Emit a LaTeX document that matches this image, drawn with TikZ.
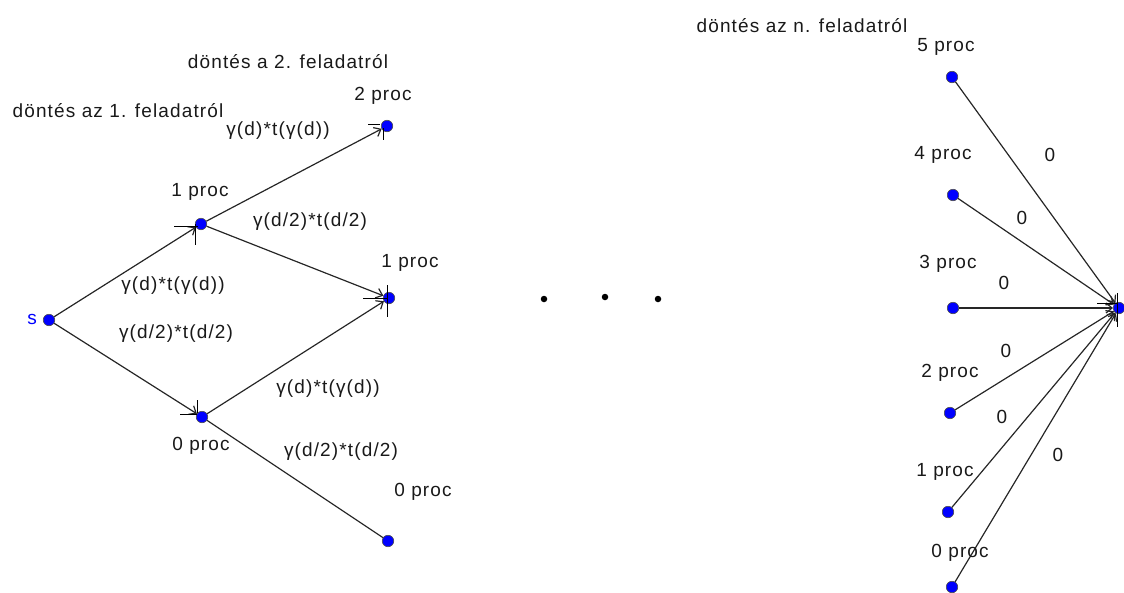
\documentclass[tikz,border=0pt]{standalone}
\usepackage{fontspec}
\setmainfont{Liberation Sans}[LetterSpace=6]
\usetikzlibrary{arrows.meta}
\definecolor{ggblue}{RGB}{0,0,255}
\tikzset{
  pt/.style={circle,fill=ggblue,draw=black!70,line width=0.6pt,inner sep=0pt,minimum size=11.5pt},
  lbl/.style={font=\fontsize{19}{21}\selectfont,text=black!90,inner sep=0pt},
  edge/.style={draw=black!85,line width=1.2pt},
  arr/.style={edge,-{Straight Barb[length=6pt,width=10pt]}},
  tick/.style={draw=black,line width=1pt},
  dot/.style={circle,fill=black,inner sep=0pt,minimum size=6.5pt}
}
\begin{document}
\begin{tikzpicture}[x=1pt,y=-1pt]
\useasboundingbox (0,0) rectangle (1124,592);
% nodes left
\node[pt] (s) at (49,320) {};
\node[pt] (a1) at (201,224) {};
\node[pt] (a0) at (202,417) {};
\node[pt] (b2) at (387,126) {};
\node[pt] (b1) at (389,298) {};
\node[pt] (b0) at (388,541) {};
% dots
\node[dot] (d1) at (544,299) {};
\node[dot] (d2) at (605,297) {};
\node[dot] (d3) at (658,299) {};
% nodes right
\node[pt] (n5) at (952,77) {};
\node[pt] (n4) at (953,195) {};
\node[pt] (n3) at (953,308) {};
\node[pt] (n2) at (950,413) {};
\node[pt] (n1) at (948,512) {};
\node[pt] (n0) at (952,587) {};
\node[pt] (t) at (1119,308) {};
% edges
\draw[arr] (s) -- (a1);
\draw[arr] (s) -- (a0);
\draw[arr] (a1) -- (b2);
\draw[arr] (a1) -- (b1);
\draw[arr] (a0) -- (b1);
\draw[edge] (a0) -- (b0);
\draw[arr] (n5) -- (t);
\draw[arr] (n4) -- (t);
\draw[arr] (n3) -- (t);
\draw[arr] (n2) -- (t);
\draw[arr] (n1) -- (t);
\draw[arr] (n0) -- (t);
% tick marks at arrow ends
\draw[tick] (a1.center) ++(-27,2) -- ++(24,0);
\draw[tick] (a1.center) ++(-6,0) -- ++(0,21);
\draw[tick] (b1.center) ++(-26,0) -- ++(24,0);
\draw[tick] (b1.center) ++(-2,-13) -- ++(0,32);
\draw[tick] (a0.center) ++(-22,-3) -- ++(17,0);
\draw[tick] (a0.center) ++(-5,-17) -- ++(0,13);
\draw[tick] (b2.center) ++(-19,-2) -- ++(12,0);
\draw[tick] (b2.center) ++(-4,2) -- ++(0,12);
\draw[tick] (t.center) ++(-22,-5) -- ++(20,0);
\draw[tick] (t.center) ++(-2,-15) -- ++(0,34);
% labels
\node[lbl,text=ggblue] (ls) at (32,319) {s};
\node[lbl] (h1) at (118,111) {döntés az 1. feladatról};
\node[lbl] (h2) at (288,62) {döntés a 2. feladatról};
\node[lbl] (hn) at (802,26) {döntés az n. feladatról};
\node[lbl] (la1) at (200,192) {1 proc};
\node[lbl] (lb2) at (383,96) {2 proc};
\node[lbl] (lb1) at (410,263) {1 proc};
\node[lbl] (la0) at (201,446) {0 proc};
\node[lbl] (lb0) at (423,492) {0 proc};
\node[lbl] (e1) at (278,131) {γ(d)*t(γ(d))};
\node[lbl] (e2) at (310,222) {γ(d/2)*t(d/2)};
\node[lbl] (e3) at (173,286) {γ(d)*t(γ(d))};
\node[lbl] (e4) at (176,334) {γ(d/2)*t(d/2)};
\node[lbl] (e5) at (328,389) {γ(d)*t(γ(d))};
\node[lbl] (e6) at (341,452) {γ(d/2)*t(d/2)};
\node[lbl] (l5) at (946,47) {5 proc};
\node[lbl] (l4) at (943,155) {4 proc};
\node[lbl] (l3) at (948,264) {3 proc};
\node[lbl] (l2) at (950,373) {2 proc};
\node[lbl] (l1) at (945,472) {1 proc};
\node[lbl] (l0) at (960,553) {0 proc};
\node[lbl] (z5) at (1050,155) {0};
\node[lbl] (z4) at (1022,218) {0};
\node[lbl] (z3) at (1004,283) {0};
\node[lbl] (z2) at (1006,351) {0};
\node[lbl] (z1) at (1002,417) {0};
\node[lbl] (z0) at (1058,455) {0};
\end{tikzpicture}
\end{document}
